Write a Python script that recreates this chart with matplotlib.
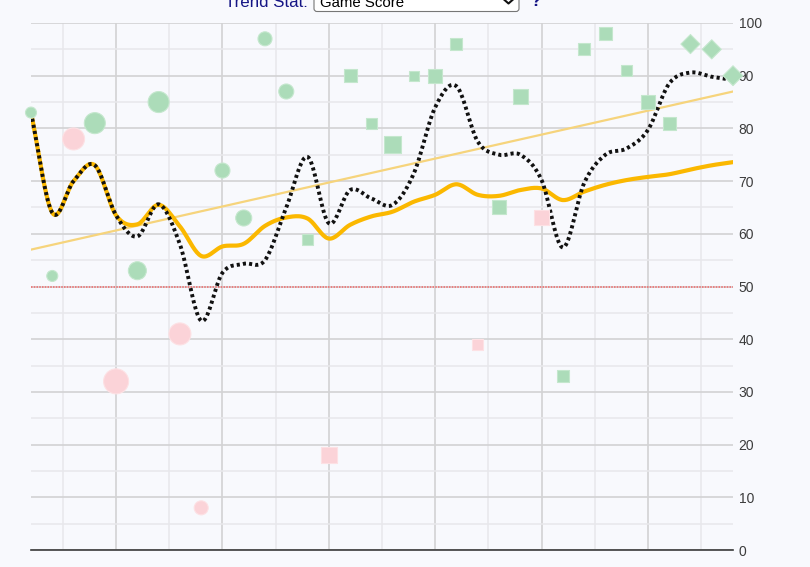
import numpy as np
import matplotlib.pyplot as plt
from matplotlib.patches import FancyBboxPatch
from matplotlib.lines import Line2D
from matplotlib.transforms import IdentityTransform

plt.rcParams['font.family'] = ['Liberation Sans', 'DejaVu Sans']

# Datos (34 partidos)
game_score = [83, 52, 78, 81, 32, 53, 85, 41, 8, 72, 63, 97, 87,
              59, 18, 90, 81, 77, 90, 90, 96, 39, 65, 86, 63, 33, 95, 98, 91, 85, 81,
              96, 95, 90]
result = list("WWLWLWWLLW" "WWWWLWWWWW" "WLWWLWWWWW" "WWWW")
game_type = ["circle"] * 13 + ["square"] * 18 + ["diamond"] * 3
minutes = [22, 22, 44, 42, 50, 36, 42, 44, 28, 30, 32, 28, 30,
           22, 32, 26, 22, 34, 20, 28, 24, 22, 28, 30, 30, 24, 24, 26, 22, 28, 26,
           27, 27, 28]

# promedio acumulado (amarillo) y promedio movil (negro punteado)
season_avg = [83, 64, 70, 73, 63.5, 61.8, 65.5, 61.4, 55.8, 57.6, 58.1, 61.5, 63.1,
              62.9, 59.1, 61.7, 63.3, 64.2, 66.1, 67.4, 69.4, 67.4, 67.2, 68.3, 68.6,
              66.4, 68.0, 69.3, 70.2, 70.8, 71.3, 72.2, 73.0, 73.6]
rolling_avg = [83, 64, 70, 73, 63.5, 59.5, 65.6, 58, 43.5, 52.6, 54.3, 55, 65,
               74.6, 62, 68.3, 66.7, 65.5, 71.5, 84, 88, 77.5, 75, 75, 70.2,
               57.4, 69.6, 75, 76.2, 79.7, 88.5, 90.6, 89.8, 89.2]
trend_start, trend_end = 57, 87
threshold = 50

games = np.arange(len(game_score))

colores = {"W": "#acdcb9", "L": "#fbd3d8"}
bordes = {"W": "#c4e7cd", "L": "#fde1e4"}
marcas = {"circle": "o", "square": "s", "diamond": "D"}


def suavizar(x, y, n=20):
    # curva Catmull-Rom que pasa por los puntos
    x = np.asarray(x, float)
    y = np.asarray(y, float)
    py = np.concatenate([[2 * y[0] - y[1]], y, [2 * y[-1] - y[-2]]])
    xs, ys = [], []
    t = np.linspace(0, 1, n, endpoint=False)
    for i in range(len(x) - 1):
        p0, p1, p2, p3 = py[i], py[i + 1], py[i + 2], py[i + 3]
        yy = 0.5 * ((2 * p1) + (-p0 + p2) * t + (2 * p0 - 5 * p1 + 4 * p2 - p3) * t ** 2
                    + (-p0 + 3 * p1 - 3 * p2 + p3) * t ** 3)
        xs.extend(x[i] + (x[i + 1] - x[i]) * t)
        ys.extend(yy)
    xs.append(x[-1])
    ys.append(y[-1])
    return np.array(xs), np.array(ys)


fig = plt.figure(figsize=(8.1, 5.67), dpi=100, facecolor="#f8f9fd")
ax = fig.add_axes([31 / 810, 17 / 567, 702 / 810, 527 / 567])
ax.set_facecolor("#f8f9fd")
ax.set_xlim(0, len(game_score) - 1)
ax.set_ylim(0, 100)

# rejilla
ax.set_xticks(np.arange(4, 33, 5))
ax.set_xticks(np.arange(1.5, 33, 5), minor=True)
ax.set_yticks(np.arange(0, 101, 10))
ax.set_yticks(np.arange(5, 100, 10), minor=True)
ax.grid(which="major", color="#d2d2d4", lw=1.2)
ax.grid(which="minor", color="#e8e8ec", lw=1.1)
ax.set_axisbelow(True)
ax.yaxis.tick_right()
ax.tick_params(axis="x", which="both", length=0, labelbottom=False)
ax.tick_params(axis="y", which="both", length=0, pad=4, labelsize=10, labelcolor="#3c3c3c")
for s in ["top", "left", "right"]:
    ax.spines[s].set_visible(False)
ax.spines["bottom"].set_color("#3a3a3a")
ax.spines["bottom"].set_linewidth(1.2)

# linea de referencia
ax.axhline(threshold, color="#f06666", lw=1.1, linestyle=(0, (1, 0.8)), zorder=2)

# tendencia
ax.plot([games[0], games[-1]], [trend_start, trend_end], color="#f6d47c", lw=1.6, zorder=3)

xs, ys = suavizar(games, season_avg)
ax.plot(xs, ys, color="#fbb800", lw=3, solid_capstyle="round", zorder=3)
xs, ys = suavizar(games, rolling_avg)
ax.plot(xs, ys, color="#111111", lw=2.8, linestyle=(0, (0.8, 0.8)), zorder=3)

# puntos de cada partido
for tipo in marcas:
    for res in colores:
        idx = [i for i in games if game_type[i] == tipo and result[i] == res]
        if not idx:
            continue
        d_pt = np.array([minutes[i] for i in idx]) * 0.5 * 72 / 100
        ax.scatter(idx, [game_score[i] for i in idx], s=d_pt ** 2, marker=marcas[tipo],
                   c=colores[res], edgecolors=bordes[res], linewidths=0.8,
                   clip_on=False, zorder=4)

# cabecera (control de la pagina, cortado arriba)
H = 567
tr = IdentityTransform()
fig.text(308, H - 7, "Trend Stat:", transform=tr, ha="right", va="baseline",
         fontsize=12.2, color="#151585")
caja = FancyBboxPatch((314, H - 11.5), 205, 25, boxstyle="round,pad=0,rounding_size=3",
                      transform=tr, fc="white", ec="#767676", lw=0.8)
fig.patches.append(caja)
fig.text(320, H - 7, "Game Score", transform=tr, ha="left", va="baseline",
         fontsize=10.8, color="#000000")
fig.lines.append(Line2D([504, 508.5, 513], [H + 0.5, H - 3.5, H + 0.5], transform=tr,
                        color="#111111", lw=1.5))
fig.text(530, H - 6, "?", transform=tr, ha="left", va="baseline",
         fontsize=12.5, fontweight="bold", color="#151585")

fig.savefig("out.png", dpi=100, facecolor=fig.get_facecolor())
